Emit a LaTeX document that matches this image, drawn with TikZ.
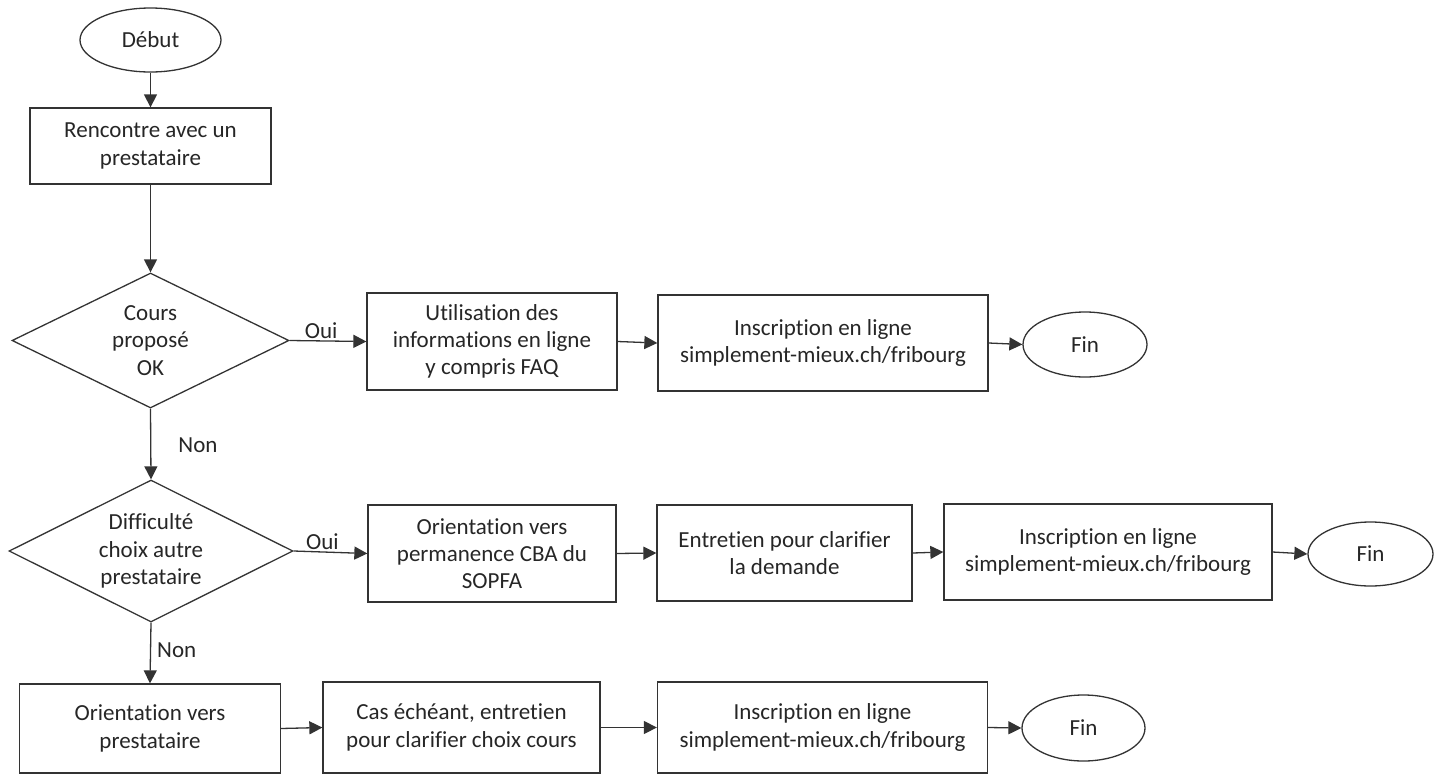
\documentclass[tikz,border=0pt]{standalone}
\usepackage{fontspec}
\setmainfont{Carlito}[Ligatures=NoCommon]
\usepackage{tikz}
\usetikzlibrary{arrows.meta, shapes.geometric, positioning}

\begin{document}
\begin{tikzpicture}[x=1pt, y=-1pt, >={Triangle[length=13pt,width=13pt]}, line width=1.3pt,
		every node/.style={font=\fontsize{23}{27.3}\selectfont, text=black!85},
		Box/.style={
            draw=black!80,
            rectangle,
            align=center,
            inner sep=0pt
		},
		Decision/.style={
            draw=black!80,
            diamond,
            aspect=2.05,
            align=center,
            inner sep=0pt
		},
		Terminal/.style={
            draw=black!80,
            ellipse,
            inner sep=0pt,
            minimum width=124pt,
            minimum height=65pt
		},
		Flow/.style={->, draw=black!80},
		Answer/.style={inner sep=2pt}]
		\useasboundingbox (0,0) rectangle (1441,774);
		% start and first question
		\node[Terminal, minimum width=141pt, minimum height=64pt] (Debut) at (150.5,40) {Début};
		\node[Box, minimum width=241pt, minimum height=76pt] (Rencontre) at (150.5,146) {Rencontre avec un\\prestataire};
		\node[Decision, minimum width=277pt, minimum height=135pt] (Cours) at (150.5,340.5) {Cours\\proposé\\OK};
		% row 1
		\node[Box, minimum width=250pt, minimum height=97pt] (Utilisation) at (492,341.5) {Utilisation des\\informations en ligne\\y compris FAQ};
		\node[Box, minimum width=330pt, minimum height=96pt] (InscrA) at (823,343) {Inscription en ligne\\simplement-mieux.ch/fribourg};
		\node[Terminal] (FinA) at (1085,344.5) {Fin};
		% row 2
		\node[Decision, minimum width=284pt, minimum height=142pt] (Difficulte) at (151,551) {Difficulté\\choix autre\\prestataire};
		\node[Box, minimum width=248pt, minimum height=97pt] (Cba) at (492,553.5) {Orientation vers\\permanence CBA du\\SOPFA};
		\node[Box, minimum width=255pt, minimum height=96pt] (Entretien) at (784.5,553) {Entretien pour clarifier\\la demande};
		\node[Box, minimum width=328pt, minimum height=96pt] (InscrB) at (1108,552) {Inscription en ligne\\simplement-mieux.ch/fribourg};
		\node[Terminal, minimum width=125pt, minimum height=64pt] (FinB) at (1370.5,554) {Fin};
		% row 3
		\node[Box, minimum width=261pt, minimum height=89pt] (Orientation) at (150,728.5) {Orientation vers\\prestataire};
		\node[Box, minimum width=277pt, minimum height=91pt] (Cas) at (461.5,727.5) {Cas échéant, entretien\\pour clarifier choix cours};
		\node[Box, minimum width=330pt, minimum height=91pt] (InscrC) at (822.5,727.5) {Inscription en ligne\\simplement-mieux.ch/fribourg};
		\node[Terminal, minimum width=123pt, minimum height=66pt] (FinC) at (1083.5,728) {Fin};
		% connectors
		\draw[Flow] (Debut) -- (Rencontre);
		\draw[Flow] (Rencontre) -- (Cours);
		\draw[Flow] (Cours.east) -- node[Answer, above, pos=0.41]{Oui} (Utilisation.west);
		\draw[Flow] (Utilisation.east) -- (InscrA.west);
		\draw[Flow] (InscrA.east) -- (FinA.west);
		\draw[Flow] (Cours.south) -- node[Answer, right=25pt, pos=0.51]{Non} (Difficulte.north);
		\draw[Flow] (Difficulte.east) -- node[Answer, above, pos=0.39]{Oui} (Cba.west);
		\draw[Flow] (Cba.east) -- (Entretien.west);
		\draw[Flow] (Entretien.east) -- (InscrB.west);
		\draw[Flow] (InscrB.east) -- (FinB.west);
		\draw[Flow] (Difficulte.south) -- node[Answer, right=4pt, pos=0.45]{Non} (Orientation.north);
		\draw[Flow] (Orientation.east) -- (Cas.west);
		\draw[Flow] (Cas.east) -- (InscrC.west);
		\draw[Flow] (InscrC.east) -- (FinC.west);
	\end{tikzpicture}
\end{document}
